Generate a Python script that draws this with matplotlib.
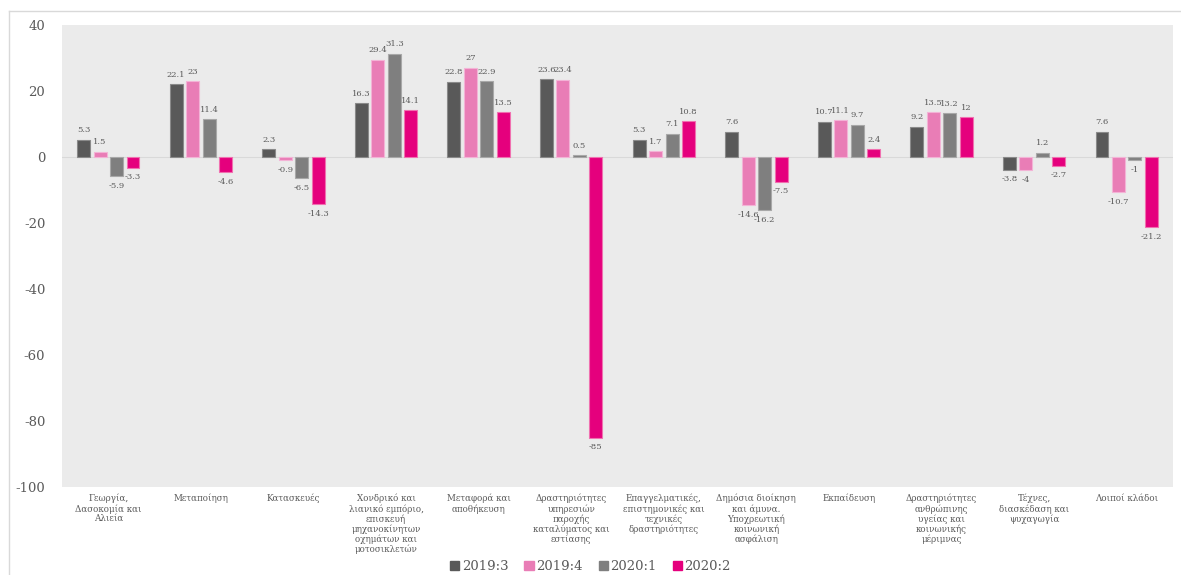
import matplotlib
matplotlib.use("Agg")
import matplotlib.pyplot as plt
import numpy as np
from matplotlib.lines import Line2D

categories = [
    "Γεωργία,\nΔασοκομία και\nΑλιεία",
    "Μεταποίηση",
    "Κατασκευές",
    "Χονδρικό και\nλιανικό εμπόριο,\nεπισκευή\nμηχανοκίνητων\nοχημάτων και\nμοτοσικλετών",
    "Μεταφορά και\nαποθήκευση",
    "Δραστηριότητες\nυπηρεσιών\nπαροχής\nκαταλύματος και\nεστίασης",
    "Επαγγελματικές,\nεπιστημονικές και\nτεχνικές\nδραστηριότητες",
    "Δημόσια διοίκηση\nκαι άμυνα.\nΥποχρεωτική\nκοινωνική\nασφάλιση",
    "Εκπαίδευση",
    "Δραστηριότητες\nανθρώπινης\nυγείας και\nκοινωνικής\nμέριμνας",
    "Τέχνες,\nδιασκέδαση και\nψυχαγωγία",
    "Λοιποί κλάδοι",
]
series_names = ["2019:3", "2019:4", "2020:1", "2020:2"]
s2019_3 = [5.3, 22.1, 2.3, 16.3, 22.8, 23.6, 5.3, 7.6, 10.7, 9.2, -3.8, 7.6]
s2019_4 = [1.5, 23, -0.9, 29.4, 27, 23.4, 1.7, -14.6, 11.1, 13.5, -4, -10.7]
s2020_1 = [-5.9, 11.4, -6.5, 31.3, 22.9, 0.5, 7.1, -16.2, 9.7, 13.2, 1.2, -1]
s2020_2 = [-3.3, -4.6, -14.3, 14.1, 13.5, -85, 10.8, -7.5, 2.4, 12, -2.7, -21.2]
yticks = [40, 20, 0, -20, -40, -60, -80, -100]

colors = ["#595959", "#E97DB6", "#7F7F7F", "#E5007D"]
edges = ["#8a8a8a", "#F3B3D6", "#A8A8A8", "#F070B0"]
txt = "#595959"
font = ["DejaVu Serif"]

fig = plt.figure(figsize=(11.81, 5.75), dpi=100)
ax = fig.add_axes([62/1181, 1-487/575, (1173-62)/1181, (487-25)/575])
ax.set_facecolor("#EBEBEB")

x = np.arange(len(categories))
width = 0.14
step = 0.178
allseries = [s2019_3, s2019_4, s2020_1, s2020_2]
for i, (vals, c, ec) in enumerate(zip(allseries, colors, edges)):
    pos = x + (i - 1.5) * step
    ax.bar(pos, vals, width, color=c, edgecolor=ec, linewidth=0.8, zorder=3, label=series_names[i])
    for p, v in zip(pos, vals):
        lab = f"{v:g}"
        if v >= 0:
            ax.annotate(lab, (p, v), xytext=(0, 4), textcoords="offset points",
                        ha="center", va="bottom", fontsize=6.0, color=txt, family=font)
        else:
            ax.annotate(lab, (p, v), xytext=(0, -4), textcoords="offset points",
                        ha="center", va="top", fontsize=6.0, color=txt, family=font)

ax.axhline(0, color="#D9D9D9", linewidth=0.8, zorder=2)
ax.set_xlim(-0.5, len(categories) - 0.5)
ax.set_ylim(-100, 40)
ax.set_yticks(yticks)
ax.set_yticklabels([str(t) for t in yticks], fontsize=9.5, color=txt, family=font)
ax.tick_params(axis="y", length=0, pad=12)
ax.set_xticks(x)
ax.set_xticklabels(categories, fontsize=6.3, color=txt, family=font, linespacing=1.08, va="top")
ax.tick_params(axis="x", length=0, pad=5)
for s in ax.spines.values():
    s.set_visible(False)

handles = [plt.Rectangle((0, 0), 1, 1, color=c) for c in colors]
leg = fig.legend(handles, series_names, loc="lower center", bbox_to_anchor=(0.5, -0.017),
                 ncol=4, frameon=False, handlelength=0.7, handleheight=0.7,
                 handletextpad=0.2, columnspacing=1.2,
                 prop={"family": font, "size": 9.5})
for t in leg.get_texts():
    t.set_color(txt)

# figure border lines (top and left)
fig.add_artist(Line2D([9/1181, 1], [1-11/575, 1-11/575], transform=fig.transFigure, color="#D9D9D9", linewidth=1))
fig.add_artist(Line2D([9/1181, 9/1181], [0, 1-11/575], transform=fig.transFigure, color="#D9D9D9", linewidth=1))

fig.savefig("out.png", dpi=100)
